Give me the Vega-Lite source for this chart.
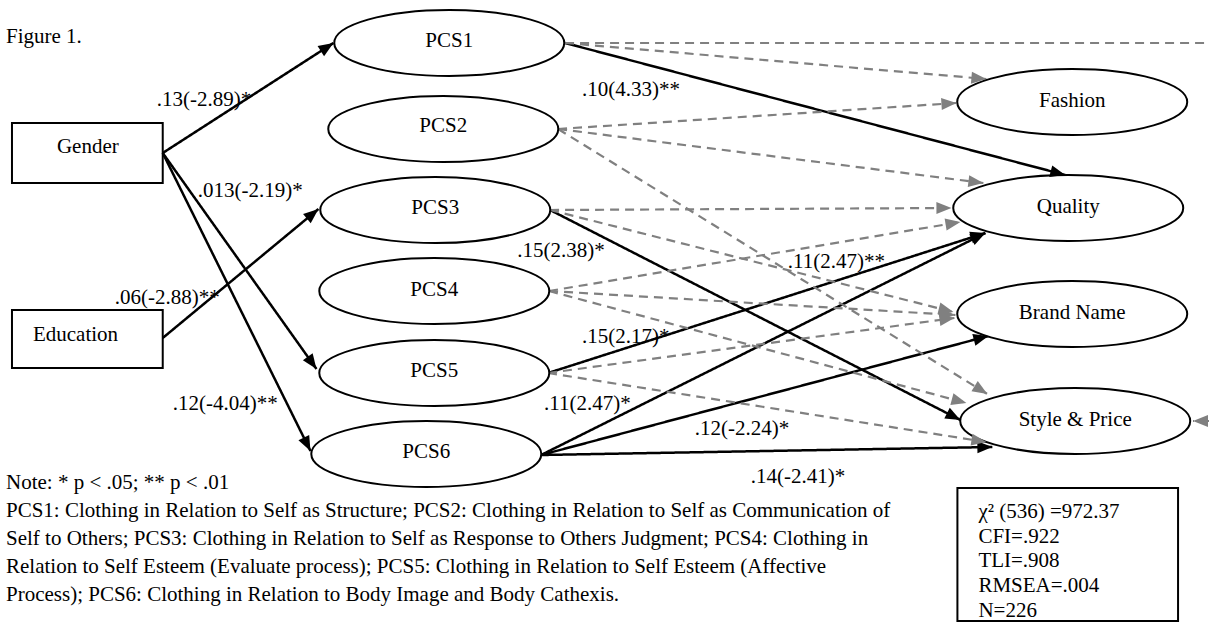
{
  "$schema": "https://vega.github.io/schema/vega-lite/v6.json",
  "width": 1211,
  "height": 622,
  "autosize": {"type": "fit", "contains": "padding"},
  "padding": 0,
  "background": "white",
  "config": {"view": {"stroke": null}},
  "datasets": {
    "ellipses": [
      {"name": "PCS1", "x": 450, "y": 43},
      {"name": "PCS2", "x": 444, "y": 129},
      {"name": "PCS3", "x": 436, "y": 210},
      {"name": "PCS4", "x": 435, "y": 291},
      {"name": "PCS5", "x": 435, "y": 373},
      {"name": "PCS6", "x": 427, "y": 454},
      {"name": "Fashion", "x": 1074, "y": 102},
      {"name": "Quality", "x": 1070, "y": 208},
      {"name": "Brand Name", "x": 1074, "y": 314},
      {"name": "Style & Price", "x": 1077, "y": 421}
    ],
    "boxes": [
      {"name": "Gender", "x": 12, "x2": 163, "y": 123, "y2": 183},
      {"name": "Education", "x": 12, "x2": 163, "y": 310, "y2": 368},
      {"name": "Fit", "x": 959, "x2": 1180, "y": 488, "y2": 621}
    ],
    "edges": [
      {"from": "Gender", "to": "PCS1", "kind": "solid", "head": true, "x": 163, "y": 153, "x2": 334, "y2": 43},
      {"from": "Gender", "to": "PCS5", "kind": "solid", "head": true, "x": 163, "y": 153, "x2": 317, "y2": 369},
      {"from": "Gender", "to": "PCS6", "kind": "solid", "head": true, "x": 163, "y": 153, "x2": 311, "y2": 451},
      {"from": "Education", "to": "PCS3", "kind": "solid", "head": true, "x": 163, "y": 338, "x2": 319, "y2": 209},
      {"from": "PCS1", "to": "Quality", "kind": "solid", "head": true, "x": 566, "y": 43, "x2": 1067, "y2": 175},
      {"from": "PCS3", "to": "Style & Price", "kind": "solid", "head": true, "x": 551, "y": 210, "x2": 962, "y2": 420},
      {"from": "PCS5", "to": "Quality", "kind": "solid", "head": true, "x": 549, "y": 373, "x2": 987, "y2": 233},
      {"from": "PCS6", "to": "Quality", "kind": "solid", "head": true, "x": 542, "y": 455, "x2": 987, "y2": 233},
      {"from": "PCS6", "to": "Brand Name", "kind": "solid", "head": true, "x": 542, "y": 455, "x2": 990, "y2": 336},
      {"from": "PCS6", "to": "Style & Price", "kind": "solid", "head": true, "x": 542, "y": 455, "x2": 994, "y2": 447},
      {"from": "PCS1", "to": "edge", "kind": "dashed", "head": false, "x": 566, "y": 43, "x2": 1211, "y2": 43},
      {"from": "PCS1", "to": "Fashion", "kind": "dashed", "head": true, "x": 566, "y": 43, "x2": 988, "y2": 79},
      {"from": "PCS2", "to": "Fashion", "kind": "dashed", "head": true, "x": 559, "y": 129, "x2": 958, "y2": 103},
      {"from": "PCS2", "to": "Quality", "kind": "dashed", "head": true, "x": 559, "y": 129, "x2": 985, "y2": 183},
      {"from": "PCS2", "to": "Style & Price", "kind": "dashed", "head": true, "x": 559, "y": 129, "x2": 989, "y2": 394},
      {"from": "PCS3", "to": "Quality", "kind": "dashed", "head": true, "x": 551, "y": 210, "x2": 953, "y2": 208},
      {"from": "PCS3", "to": "Brand Name", "kind": "dashed", "head": true, "x": 551, "y": 210, "x2": 955, "y2": 312},
      {"from": "PCS4", "to": "Quality", "kind": "dashed", "head": true, "x": 550, "y": 291, "x2": 962, "y2": 222},
      {"from": "PCS4", "to": "Brand Name", "kind": "dashed", "head": true, "x": 550, "y": 291, "x2": 957, "y2": 315},
      {"from": "PCS4", "to": "Style & Price", "kind": "dashed", "head": true, "x": 550, "y": 291, "x2": 968, "y2": 403},
      {"from": "PCS5", "to": "Brand Name", "kind": "dashed", "head": true, "x": 549, "y": 373, "x2": 956, "y2": 318},
      {"from": "PCS5", "to": "Style & Price", "kind": "dashed", "head": true, "x": 549, "y": 373, "x2": 988, "y2": 442},
      {"from": "edge", "to": "Style & Price", "kind": "dashed", "head": true, "x": 1211, "y": 421, "x2": 1195, "y2": 421}
    ],
    "labels": [
      {"text": "Gender", "x": 88, "y": 153, "align": "center"},
      {"text": "PCS1", "x": 450, "y": 47, "align": "center"},
      {"text": "PCS2", "x": 444, "y": 132, "align": "center"},
      {"text": "PCS3", "x": 436, "y": 214, "align": "center"},
      {"text": "PCS4", "x": 435, "y": 296, "align": "center"},
      {"text": "PCS5", "x": 435, "y": 377, "align": "center"},
      {"text": "PCS6", "x": 427, "y": 458, "align": "center"},
      {"text": "Fashion", "x": 1074, "y": 107, "align": "center"},
      {"text": "Quality", "x": 1070, "y": 213, "align": "center"},
      {"text": "Brand Name", "x": 1074, "y": 319, "align": "center"},
      {"text": "Style & Price", "x": 1077, "y": 426, "align": "center"},
      {"text": "Figure 1.", "x": 6, "y": 43, "align": "left"},
      {"text": "Education", "x": 33, "y": 341, "align": "left"},
      {"text": ".13(-2.89)*", "x": 157, "y": 106, "align": "left"},
      {"text": ".013(-2.19)*", "x": 198, "y": 197, "align": "left"},
      {"text": ".06(-2.88)**", "x": 115, "y": 304, "align": "left"},
      {"text": ".12(-4.04)**", "x": 173, "y": 410, "align": "left"},
      {"text": ".10(4.33)**", "x": 583, "y": 96, "align": "left"},
      {"text": ".15(2.38)*", "x": 518, "y": 257, "align": "left"},
      {"text": ".15(2.17)*", "x": 583, "y": 343, "align": "left"},
      {"text": ".11(2.47)*", "x": 545, "y": 410, "align": "left"},
      {"text": ".11(2.47)**", "x": 789, "y": 268, "align": "left"},
      {"text": ".12(-2.24)*", "x": 696, "y": 435, "align": "left"},
      {"text": ".14(-2.41)*", "x": 752, "y": 483, "align": "left"},
      {"text": "Note: * p < .05; ** p < .01", "x": 6, "y": 489, "align": "left"},
      {"text": "PCS1: Clothing in Relation to Self as Structure; PCS2: Clothing in Relation to Self as Communication of", "x": 6, "y": 517, "align": "left"},
      {"text": "Self to Others; PCS3: Clothing in Relation to Self as Response to Others Judgment; PCS4: Clothing in", "x": 6, "y": 545, "align": "left"},
      {"text": "Relation to Self Esteem (Evaluate process); PCS5: Clothing in Relation to Self Esteem (Affective", "x": 6, "y": 573, "align": "left"},
      {"text": "Process); PCS6: Clothing in Relation to Body Image and Body Cathexis.", "x": 6, "y": 601, "align": "left"},
      {"text": "χ² (536) =972.37", "x": 980, "y": 518, "align": "left"},
      {"text": "CFI=.922", "x": 980, "y": 543, "align": "left"},
      {"text": "TLI=.908", "x": 980, "y": 567, "align": "left"},
      {"text": "RMSEA=.004", "x": 980, "y": 592, "align": "left"},
      {"text": "N=226", "x": 980, "y": 617, "align": "left"}
    ]
  },
  "encoding": {
    "x": {"field": "x", "type": "quantitative", "scale": {"domain": [0, 1211], "nice": false, "zero": false}, "axis": null},
    "y": {"field": "y", "type": "quantitative", "scale": {"domain": [0, 622], "nice": false, "zero": false, "reverse": true}, "axis": null}
  },
  "layer": [
    {
      "data": {"name": "edges"},
      "mark": {"type": "rule"},
      "encoding": {
        "x2": {"field": "x2"},
        "y2": {"field": "y2"},
        "color": {"field": "kind", "type": "nominal", "scale": {"domain": ["solid", "dashed"], "range": ["#000000", "#808080"]}, "legend": null},
        "strokeDash": {"field": "kind", "type": "nominal", "scale": {"domain": ["solid", "dashed"], "range": [[1, 0], [9, 6]]}, "legend": null},
        "strokeWidth": {"field": "kind", "type": "nominal", "scale": {"domain": ["solid", "dashed"], "range": [2.5, 2.2]}, "legend": null}
      }
    },
    {
      "data": {"name": "boxes"},
      "mark": {"type": "rect", "fill": "white", "fillOpacity": 0, "stroke": "black", "strokeWidth": 2},
      "encoding": {
        "x2": {"field": "x2"},
        "y2": {"field": "y2"}
      }
    },
    {
      "data": {"name": "ellipses"},
      "mark": {"type": "point", "shape": "M-1,0A1,0.287,0,1,1,1,0A1,0.287,0,1,1,-1,0Z", "size": 52900, "filled": true, "fill": "white", "stroke": "black", "strokeWidth": 2, "opacity": 1, "fillOpacity": 1, "strokeOpacity": 1}
    },
    {
      "data": {"name": "edges"},
      "transform": [
        {"filter": "datum.head"},
        {"calculate": "atan2(datum.x2 - datum.x, datum.y - datum.y2) * 180 / PI", "as": "ang"}
      ],
      "mark": {"type": "point", "shape": "M0,0L0.4,1L-0.4,1Z", "size": 900, "filled": true, "opacity": 1, "strokeWidth": 0},
      "encoding": {
        "x": {"field": "x2", "type": "quantitative"},
        "y": {"field": "y2", "type": "quantitative"},
        "angle": {"field": "ang", "type": "quantitative", "scale": null},
        "color": {"field": "kind", "type": "nominal", "scale": {"domain": ["solid", "dashed"], "range": ["#000000", "#808080"]}, "legend": null}
      }
    },
    {
      "data": {"name": "labels"},
      "transform": [{"filter": "datum.align === 'center'"}],
      "mark": {"type": "text", "align": "center", "baseline": "alphabetic", "font": "Liberation Serif", "fontSize": 21, "color": "black"},
      "encoding": {"text": {"field": "text"}}
    },
    {
      "data": {"name": "labels"},
      "transform": [{"filter": "datum.align === 'left'"}],
      "mark": {"type": "text", "align": "left", "baseline": "alphabetic", "font": "Liberation Serif", "fontSize": 21, "color": "black"},
      "encoding": {"text": {"field": "text"}}
    }
  ]
}
